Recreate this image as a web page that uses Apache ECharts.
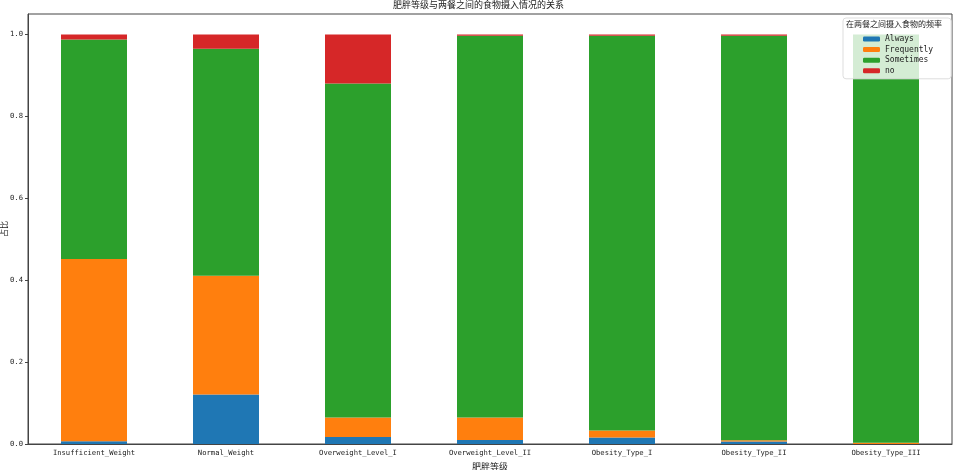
<!DOCTYPE html>
<html>
<head>
<meta charset="utf-8">
<script src="https://cdn.jsdelivr.net/npm/echarts@6/dist/echarts.min.js"></script>
<style>
    html, body { margin: 0; padding: 0; background: #fff; }
    #chart { width: 957px; height: 470px; }
</style>
</head>
<body>
<div id="chart"></div>
<script>
    // categories and shares
    var categories = ["Insufficient_Weight", "Normal_Weight", "Overweight_Level_I", "Overweight_Level_II",
                      "Obesity_Type_I", "Obesity_Type_II", "Obesity_Type_III"];
    var always     = [0.007, 0.121, 0.017, 0.010, 0.016, 0.006, 0.000];
    var frequently = [0.445, 0.290, 0.048, 0.055, 0.017, 0.003, 0.003];
    var sometimes  = [0.536, 0.554, 0.815, 0.932, 0.964, 0.988, 0.997];
    var no         = [0.012, 0.035, 0.120, 0.003, 0.003, 0.003, 0.000];
    var seriesNames = ["Always", "Frequently", "Sometimes", "no"];
    var colors = ["#1f77b4", "#ff7f0e", "#2ca02c", "#d62728"];
    var yTicks = [0, 0.2, 0.4, 0.6, 0.8, 1.0];

    var FONT = "'DejaVu Sans Mono', 'Noto Sans CJK SC', monospace";
    var CJK = "'Noto Sans CJK SC', sans-serif";

    var chart = echarts.init(document.getElementById("chart"), null, { renderer: "canvas" });
    var values = [always, frequently, sometimes, no];

    var series = seriesNames.map(function (name, i) {
        return {
            name: name,
            type: "bar",
            stack: "total",
            barWidth: "50%",
            itemStyle: { color: colors[i] },
            data: values[i]
        };
    });

    chart.setOption({
        animation: false,
        textStyle: { fontFamily: FONT },
        title: [
            {
                text: "肥胖等级与两餐之间的食物摄入情况的关系",
                left: "center",
                top: 0,
                padding: 0,
                textStyle: { fontSize: 9, fontWeight: "normal", color: "#222", fontFamily: CJK }
            },
            {
                text: "在两餐之间摄入食物的频率",
                left: 846,
                top: 20,
                padding: 0,
                z: 10,
                textStyle: { fontSize: 8, fontWeight: "normal", color: "#222", fontFamily: CJK }
            }
        ],
        legend: {
            data: seriesNames,
            orient: "vertical",
            left: 843,
            top: 18,
            padding: [16, 18, 3, 20],
            itemWidth: 17,
            itemHeight: 5,
            itemGap: 0.6,
            backgroundColor: "rgba(255,255,255,0.8)",
            borderColor: "#ddd",
            borderWidth: 1,
            borderRadius: 3,
            textStyle: { fontSize: 8, lineHeight: 10, color: "#222", fontFamily: FONT }
        },
        grid: {
            left: 28,
            right: 5,
            top: 14,
            bottom: 26,
            outerBoundsMode: "none",
            containLabel: false,
            show: true,
            borderColor: "#444",
            borderWidth: 1
        },
        xAxis: {
            type: "category",
            data: categories,
            name: "肥胖等级",
            nameLocation: "middle",
            nameGap: 13,
            nameTextStyle: { fontSize: 9, color: "#222", fontFamily: CJK },
            axisLine: { lineStyle: { color: "#444" } },
            axisTick: { alignWithLabel: true, length: 3, lineStyle: { color: "#444" } },
            axisLabel: { fontSize: 7.2, color: "#222", margin: 6, interval: 0 }
        },
        yAxis: {
            type: "value",
            min: 0,
            max: 1.05,
            interval: 0.2,
            name: "占比",
            nameLocation: "middle",
            nameGap: 20,
            nameMoveOverlap: false,
            nameTextStyle: { fontSize: 8, color: "#222", fontFamily: CJK },
            splitLine: { show: false },
            axisLine: { show: true, lineStyle: { color: "#444" } },
            axisTick: { show: true, length: 3, lineStyle: { color: "#444" } },
            axisLabel: {
                fontSize: 7.2,
                color: "#222",
                margin: 5,
                showMaxLabel: false,
                formatter: function (v) {
                    return yTicks.indexOf(Math.round(v * 10) / 10) >= 0 && Math.abs(v * 5 - Math.round(v * 5)) < 1e-6
                        ? v.toFixed(1) : "";
                }
            }
        },
        series: series
    });
</script>
</body>
</html>
